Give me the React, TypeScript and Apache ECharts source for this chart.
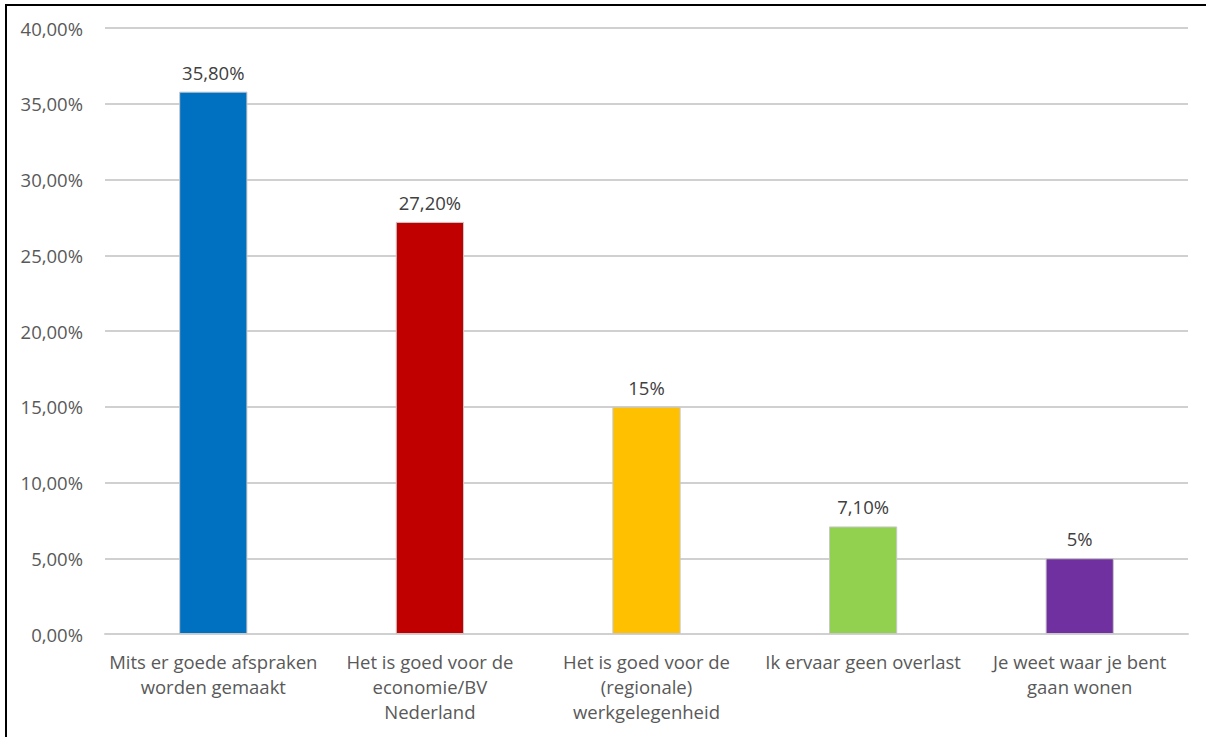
import React, { useEffect, useRef } from "react";
import * as echarts from "echarts";

const categories = [
  "Mits er goede afspraken\nworden gemaakt",
  "Het is goed voor de\neconomie/BV\nNederland",
  "Het is goed voor de\n(regionale)\nwerkgelegenheid",
  "Ik ervaar geen overlast",
  "Je weet waar je bent\ngaan wonen",
];
const values = [35.8, 27.2, 15, 7.1, 5];
const valueLabels = ["35,80%", "27,20%", "15%", "7,10%", "5%"];
const barColors = ["#0070C0", "#C00000", "#FFC000", "#92D050", "#7030A0"];
const yTicks = [0, 5, 10, 15, 20, 25, 30, 35, 40];

const FONT = "'Open Sans', 'Noto Sans', sans-serif";

export default function App() {
  const ref = useRef<HTMLDivElement>(null);
  useEffect(() => {
    if (!ref.current) return;
    const chart = echarts.init(ref.current, null, { renderer: "svg" });
    chart.setOption({
      animation: false,
      backgroundColor: "#ffffff",
      grid: { left: 105, right: 18, top: 28, bottom: 103, containLabel: false },
      xAxis: {
        type: "category",
        data: categories,
        axisLine: { show: true, lineStyle: { color: "#d0d0d0", width: 2 } },
        axisTick: { show: false },
        axisLabel: {
          interval: 0,
          margin: 15,
          color: "#595959",
          fontFamily: FONT,
          fontSize: 18.5,
          lineHeight: 25,
          align: "center",
        },
      },
      yAxis: {
        type: "value",
        min: yTicks[0],
        max: yTicks[yTicks.length - 1],
        interval: 5,
        axisLine: { show: false },
        axisTick: { show: false },
        splitLine: { lineStyle: { color: "#d0d0d0", width: 2 } },
        axisLabel: {
          margin: 22,
          color: "#595959",
          fontFamily: FONT,
          fontSize: 18.5,
          formatter: (v: number) => v.toFixed(2).replace(".", ",") + "%",
        },
      },
      series: [
        {
          type: "bar",
          barWidth: "31.5%",
          data: values.map((v, i) => ({
            value: v,
            itemStyle: { color: barColors[i], borderColor: "#c8c8c8", borderWidth: 1 },
          })),
          label: {
            show: true,
            position: "top",
            distance: 10,
            color: "#404040",
            fontFamily: FONT,
            fontSize: 18.5,
            formatter: (p: any) => valueLabels[p.dataIndex],
          },
        },
      ],
      graphic: [
        { type: "line", shape: { x1: 6, y1: 5, x2: 6, y2: 737 }, style: { stroke: "#000", lineWidth: 2 } },
        { type: "line", shape: { x1: 5, y1: 5, x2: 1206, y2: 5 }, style: { stroke: "#000", lineWidth: 2 } },
      ],
    });
    return () => chart.dispose();
  }, []);
  return (
    <div
      ref={ref}
      style={{ position: "absolute", left: 0, top: 0, width: 1206, height: 737 }}
    />
  );
}
